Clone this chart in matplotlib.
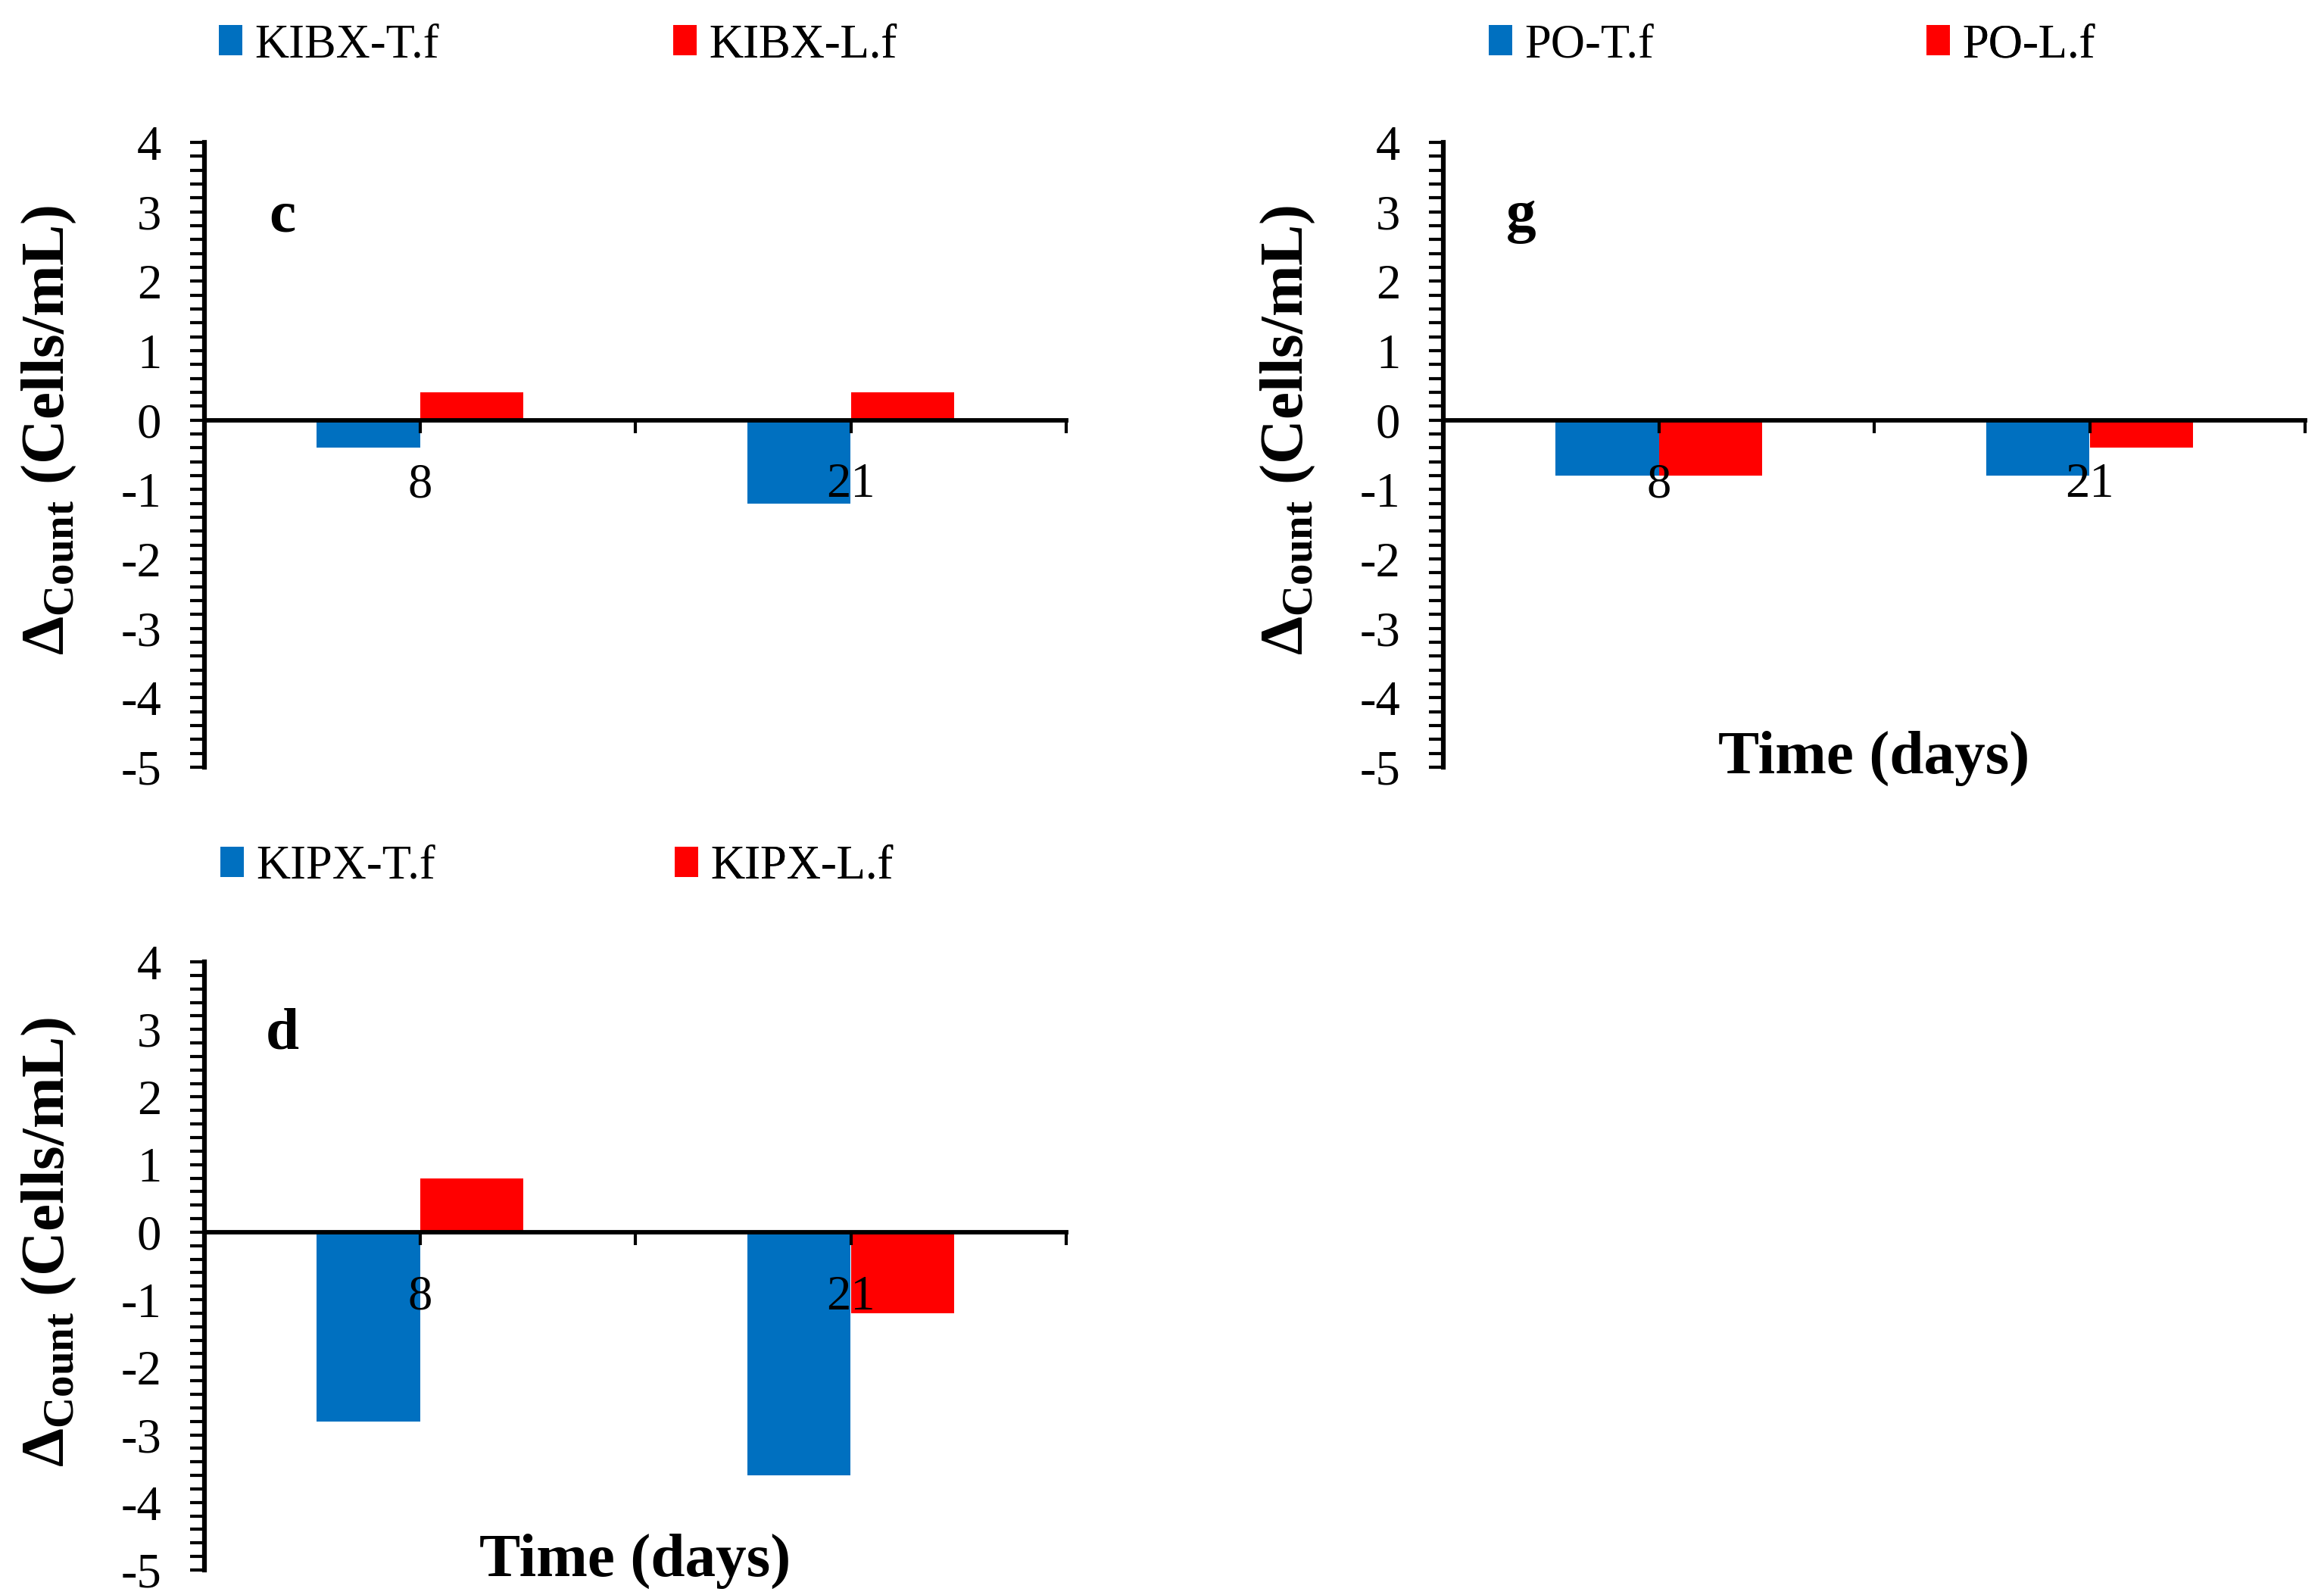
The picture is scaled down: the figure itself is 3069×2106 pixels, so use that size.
import numpy as np
import matplotlib
matplotlib.use("Agg")
import matplotlib.pyplot as plt
from matplotlib.ticker import MultipleLocator, FixedLocator

plt.rcParams['font.family'] = ['Liberation Serif', 'DejaVu Serif']
plt.rcParams['mathtext.fontset'] = 'custom'
plt.rcParams['mathtext.rm'] = 'Liberation Serif'
plt.rcParams['mathtext.bf'] = 'Liberation Serif:bold'
plt.rcParams['axes.unicode_minus'] = False

# data
days = ['8', '21']
kibx_t = [-0.4, -1.2]
kibx_l = [0.4, 0.4]
po_t = [-0.8, -0.8]
po_l = [-0.8, -0.4]
kipx_t = [-2.8, -3.6]
kipx_l = [0.8, -1.2]

BLUE = '#0070C0'
RED = '#FF0000'
W, H = 3069, 2106

fig = plt.figure(figsize=(W / 300, H / 300), dpi=300)

# category slots: each day sits in the middle of a 2-unit slot
xpos = 1 + 2 * np.arange(len(days))
bw = 0.48


def panel(rect, t_vals, l_vals, names, letter, leg_px, show_xlabel):
    ax = fig.add_axes(rect)
    ax.bar(xpos - bw / 2, t_vals, bw, color=BLUE, label=names[0], zorder=1)
    ax.bar(xpos + bw / 2, l_vals, bw, color=RED, label=names[1], zorder=1)
    ax.set_xlim(0, 2 * len(days))
    ax.set_ylim(-5, 4)

    for s in ['top', 'right']:
        ax.spines[s].set_visible(False)
    ax.spines['bottom'].set_position(('data', 0))
    ax.spines['left'].set_linewidth(1.5)
    ax.spines['bottom'].set_linewidth(1.4)

    ax.xaxis.set_major_locator(FixedLocator(xpos))
    ax.set_xticklabels(days)
    ax.xaxis.set_minor_locator(FixedLocator(xpos + 1))
    ax.tick_params(axis='x', which='both', direction='out', length=4, width=1,
                   pad=9.5, labelsize=15.5)

    ax.yaxis.set_major_locator(MultipleLocator(1))
    ax.yaxis.set_minor_locator(MultipleLocator(0.2))
    ax.tick_params(axis='y', which='both', direction='out', length=4.6, width=1,
                   pad=9, labelsize=15.5)

    ax.set_ylabel(r'Δ$_{\mathbf{Count}}$ (Cells/mL)', fontsize=19.5,
                  fontweight='bold', va='center')
    ax.yaxis.set_label_coords(-0.18, 0.54)

    ax.text(0.09, 0.858, letter, transform=ax.transAxes, fontsize=19,
            fontweight='bold', ha='center', va='baseline')

    if show_xlabel:
        ax.text(0.5, -0.01, 'Time (days)', transform=ax.transAxes,
                fontsize=19.5, fontweight='bold', ha='center', va='baseline')

    # two one-entry legends above the axes, placed like the original
    handles, labels = ax.get_legend_handles_labels()
    for i in range(2):
        lx, ly = leg_px[i]
        lg = ax.legend([handles[i]], [labels[i]], loc='center left',
                       bbox_to_anchor=(lx / W, 1 - ly / H),
                       bbox_transform=fig.transFigure, frameon=False,
                       fontsize=15, handlelength=0.5, handleheight=0.62,
                       handletextpad=0.25, borderpad=0, borderaxespad=0)
        ax.add_artist(lg)
    return ax


left_a, left_b = 270 / W, 1906 / W
aw = 1138 / W

panel([left_a, 1 - 1013 / H, aw, 825 / H], kibx_t, kibx_l,
      ['KIBX-T.f', 'KIBX-L.f'], 'c', [(289, 60), (889, 60)], False)
panel([left_b, 1 - 1013 / H, aw, 825 / H], po_t, po_l,
      ['PO-T.f', 'PO-L.f'], 'g', [(1966, 60), (2544, 60)], True)
panel([left_a, 1 - 2073 / H, aw, 803 / H], kipx_t, kipx_l,
      ['KIPX-T.f', 'KIPX-L.f'], 'd', [(291, 1145), (891, 1145)], True)

fig.savefig('out.png', dpi=300)
